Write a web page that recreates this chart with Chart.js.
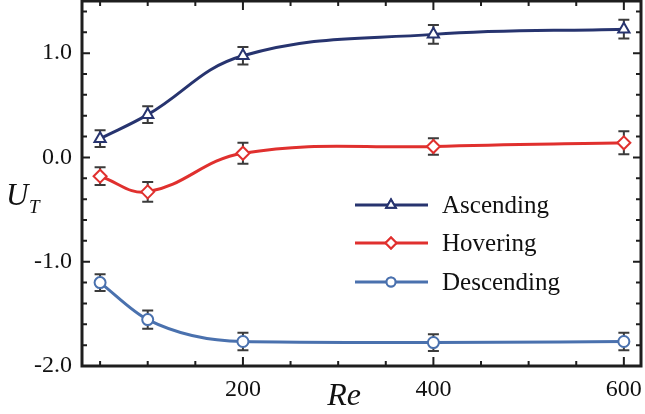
<!DOCTYPE html>
<html>
<head>
<meta charset="utf-8">
<script src="https://cdn.jsdelivr.net/npm/chart.js@4.4.1/dist/chart.umd.min.js"></script>
<style>
    html, body { margin: 0; padding: 0; background: #fff; }
    #wrap { width: 645px; height: 414px; }
</style>
</head>
<body>
<div id="wrap"><canvas id="utChart"></canvas></div>
<script>
// Re values where the three cases were measured
const reValues = [50, 100, 200, 400, 600];

const ascending = [0.18, 0.41, 0.975, 1.18, 1.23];
const ascendingErr = [0.08, 0.08, 0.085, 0.09, 0.09];

const hovering = [-0.18, -0.33, 0.04, 0.105, 0.14];
const hoveringErr = [0.085, 0.095, 0.1, 0.08, 0.11];

const descending = [-1.20, -1.555, -1.765, -1.775, -1.765];
const descendingErr = [0.08, 0.088, 0.085, 0.08, 0.085];

const seriesNames = ['Ascending', 'Hovering', 'Descending'];
const xTickLabels = [200, 400, 600];
const yTickLabels = [1, 0, -1, -2];

const SERIF = '"Liberation Serif", "Times New Roman", serif';
const AXIS_COLOR = '#1e1e1e';
const ERR_COLOR = '#3b3b3b';

const styles = [
    { color: '#27346f', point: 'triangle', radius: 6.5, curve: 'default' },
    { color: '#e0302e', point: 'rectRot', radius: 6.5, curve: 'default' },
    { color: '#4a71ae', point: 'circle', radius: 5.5, curve: 'monotone' }
];
const seriesValues = [ascending, hovering, descending];
const seriesErrors = [ascendingErr, hoveringErr, descendingErr];

function toPoints(values) {
    return reValues.map((re, i) => ({ x: re, y: values[i] }));
}

function isNear(v, list) {
    return list.some(t => Math.abs(v - t) < 1e-6);
}

// error bars with caps, drawn under the lines and markers
const errorBars = {
    id: 'errorBars',
    beforeDatasetsDraw(chart) {
        const ctx = chart.ctx;
        const yScale = chart.scales.y;
        ctx.save();
        ctx.strokeStyle = ERR_COLOR;
        ctx.lineWidth = 2;
        chart.data.datasets.forEach((ds, di) => {
            const meta = chart.getDatasetMeta(di);
            meta.data.forEach((pt, i) => {
                const v = seriesValues[di][i];
                const e = seriesErrors[di][i];
                const yTop = yScale.getPixelForValue(v + e);
                const yBot = yScale.getPixelForValue(v - e);
                ctx.beginPath();
                ctx.moveTo(pt.x, yTop);
                ctx.lineTo(pt.x, yBot);
                ctx.moveTo(pt.x - 5.5, yTop);
                ctx.lineTo(pt.x + 5.5, yTop);
                ctx.moveTo(pt.x - 5.5, yBot);
                ctx.lineTo(pt.x + 5.5, yBot);
                ctx.stroke();
            });
        });
        ctx.restore();
    }
};

// closed frame with inward tick marks on all four sides
const frameAxes = {
    id: 'frameAxes',
    afterDatasetsDraw(chart) {
        const ctx = chart.ctx;
        const { left, right, top, bottom } = chart.chartArea;
        const xs = chart.scales.x;
        const ys = chart.scales.y;
        ctx.save();
        ctx.strokeStyle = AXIS_COLOR;
        ctx.lineWidth = 2;
        ctx.beginPath();
        xs.ticks.forEach(t => {
            const px = xs.getPixelForValue(t.value);
            const len = isNear(t.value, xTickLabels) ? 9 : 5;
            ctx.moveTo(px, bottom);
            ctx.lineTo(px, bottom - len);
            ctx.moveTo(px, top);
            ctx.lineTo(px, top + len);
        });
        ys.ticks.forEach(t => {
            const py = ys.getPixelForValue(t.value);
            const len = isNear(t.value, yTickLabels) ? 8 : 5;
            ctx.moveTo(left, py);
            ctx.lineTo(left + len, py);
            ctx.moveTo(right, py);
            ctx.lineTo(right - len, py);
        });
        ctx.stroke();
        ctx.lineWidth = 3;
        ctx.strokeRect(left, top, right - left, bottom - top);

        // axis titles
        ctx.fillStyle = '#111';
        ctx.textBaseline = 'alphabetic';
        ctx.font = 'italic 32px ' + SERIF;
        ctx.textAlign = 'center';
        ctx.fillText('Re', 344, 405);
        ctx.textAlign = 'left';
        ctx.font = 'italic 31px ' + SERIF;
        ctx.fillText('U', 6, 205);
        ctx.font = 'italic 19px ' + SERIF;
        ctx.fillText('T', 29, 213);
        ctx.restore();
    }
};

// line + marker legend inside the plot
const lineLegend = {
    id: 'lineLegend',
    afterDraw(chart) {
        const ctx = chart.ctx;
        const rows = [205, 243, 282];
        ctx.save();
        chart.data.datasets.forEach((ds, i) => {
            const y = rows[i];
            ctx.strokeStyle = ds.borderColor;
            ctx.lineWidth = 3;
            ctx.beginPath();
            ctx.moveTo(355, y);
            ctx.lineTo(428, y);
            ctx.stroke();
            ctx.fillStyle = '#fff';
            ctx.lineWidth = 2;
            Chart.helpers.drawPoint(ctx, {
                pointStyle: ds.pointStyle,
                radius: ds.pointRadius - 1,
                rotation: 0,
                borderWidth: 2
            }, 391, y);
            ctx.fill();
            ctx.stroke();
            ctx.fillStyle = '#111';
            ctx.font = '25px ' + SERIF;
            ctx.textAlign = 'left';
            ctx.textBaseline = 'middle';
            ctx.fillText(ds.label, 442, y + 1);
        });
        ctx.restore();
    }
};

const datasets = seriesNames.map((name, i) => ({
    label: name,
    data: toPoints(seriesValues[i]),
    borderColor: styles[i].color,
    backgroundColor: '#fff',
    borderWidth: 3,
    tension: 0.4,
    cubicInterpolationMode: styles[i].curve,
    pointStyle: styles[i].point,
    pointRadius: styles[i].radius,
    pointBorderWidth: 2,
    pointBackgroundColor: '#fff',
    pointBorderColor: styles[i].color
}));

new Chart(document.getElementById('utChart').getContext('2d'), {
    type: 'line',
    data: { datasets: datasets },
    options: {
        responsive: true,
        maintainAspectRatio: false,
        animation: false,
        layout: {
            autoPadding: false,
            padding: { top: 1, right: 4, left: 0, bottom: 0 }
        },
        plugins: {
            legend: { display: false },
            tooltip: { enabled: false }
        },
        scales: {
            x: {
                type: 'linear',
                min: 31,
                max: 618,
                grid: { display: false, drawTicks: false },
                border: { display: false },
                ticks: {
                    stepSize: 50,
                    includeBounds: false,
                    autoSkip: false,
                    maxRotation: 0,
                    padding: 9,
                    color: '#111',
                    font: { family: SERIF, size: 24 },
                    callback: v => isNear(v, xTickLabels) ? String(v) : ''
                },
                afterFit: scale => {
                    scale.height = 48;
                    scale.paddingLeft = 0;
                    scale.paddingRight = 0;
                }
            },
            y: {
                min: -2,
                max: 1.5,
                grid: { display: false, drawTicks: false },
                border: { display: false },
                ticks: {
                    stepSize: 0.2,
                    includeBounds: false,
                    autoSkip: false,
                    padding: 10,
                    color: '#111',
                    font: { family: SERIF, size: 24 },
                    callback: v => isNear(v, yTickLabels) ? v.toFixed(1) : ''
                },
                afterFit: scale => {
                    scale.width = 82;
                    scale.paddingTop = 0;
                    scale.paddingBottom = 0;
                }
            }
        }
    },
    plugins: [errorBars, frameAxes, lineLegend]
});
</script>
</body>
</html>
